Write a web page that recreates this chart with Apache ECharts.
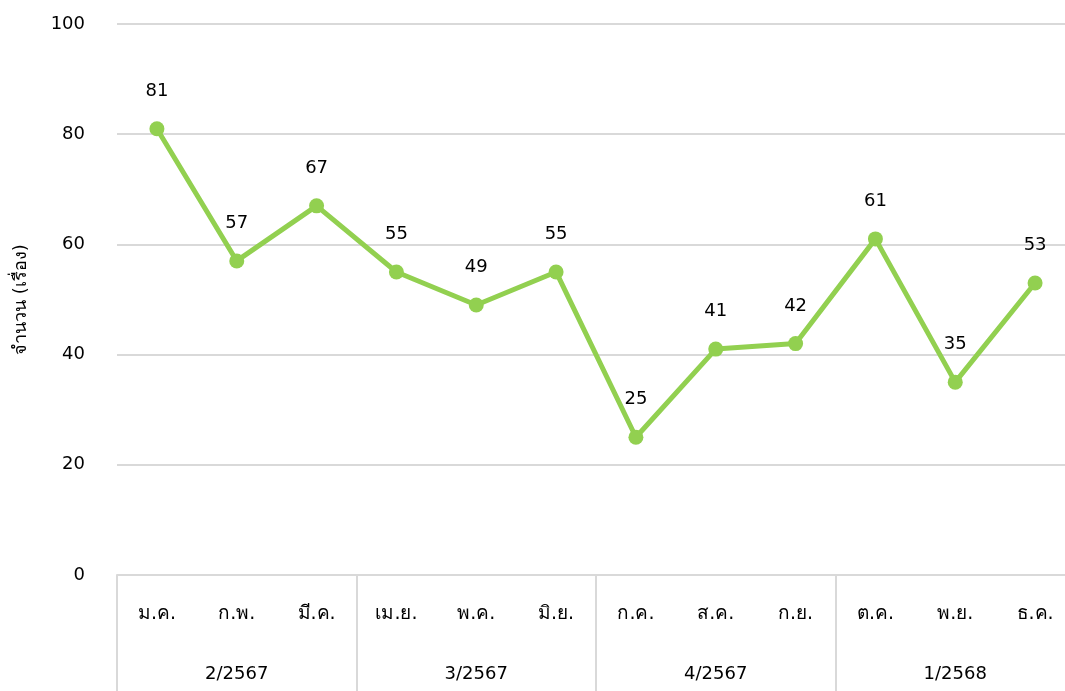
<!DOCTYPE html>
<html><head><meta charset="utf-8">
<script src="https://cdn.jsdelivr.net/npm/echarts@6/dist/echarts.min.js"></script>
<style>html,body{margin:0;padding:0;background:#fff}#c{width:1065px;height:691px}</style>
</head><body><div id="c"></div>
<script>
const months = ['ม.ค.','ก.พ.','มี.ค.','เม.ย.','พ.ค.','มิ.ย.','ก.ค.','ส.ค.','ก.ย.','ต.ค.','พ.ย.','ธ.ค.'];
const quarters = ['2/2567','3/2567','4/2567','1/2568'];
const values = [81,57,67,55,49,55,25,41,42,61,35,53];
const yTicks = [0,20,40,60,80,100];
const yTitle = 'จำนวน (เรื่อง)';

const FONT = 'Tahoma, "DejaVu Sans", "Noto Sans", sans-serif';
const chart = echarts.init(document.getElementById('c'));
chart.setOption({
  animation:false,
  textStyle:{fontFamily:FONT},
  grid:{left:117,width:958,top:24,height:551,containLabel:false,outerBoundsMode:'none'},
  xAxis:[{
    type:'category', data:months, position:'bottom',
    axisLine:{show:true,lineStyle:{color:'#d9d9d9',width:2}},
    axisTick:{show:false},
    axisLabel:{margin:30,fontSize:19,color:'#000',fontFamily:FONT,interval:0}
  },{
    type:'category', data:quarters, position:'bottom', offset:0,
    axisLine:{show:false},
    axisTick:{show:true,interval:0,length:118,inside:false,lineStyle:{color:'#d9d9d9',width:2}},
    axisLabel:{margin:90,fontSize:18,color:'#000',fontFamily:FONT,interval:0}
  }],
  yAxis:{
    type:'value', min:yTicks[0], max:yTicks[yTicks.length-1], interval:20,
    name:yTitle, nameLocation:'middle', nameRotate:90, nameGap:87,
    nameTextStyle:{fontSize:18,color:'#000',fontFamily:FONT},
    axisLine:{show:false}, axisTick:{show:false},
    axisLabel:{margin:32,fontSize:18,color:'#000',fontFamily:FONT},
    splitLine:{show:true,lineStyle:{color:'#d9d9d9',width:2}}
  },
  series:[{
    type:'line', data:values, xAxisIndex:0,
    symbol:'circle', symbolSize:15,
    lineStyle:{color:'#92d050',width:5},
    itemStyle:{color:'#92d050'},
    label:{show:true,position:'top',distance:21,fontSize:18,color:'#000',fontFamily:FONT}
  }]
});
</script></body></html>
